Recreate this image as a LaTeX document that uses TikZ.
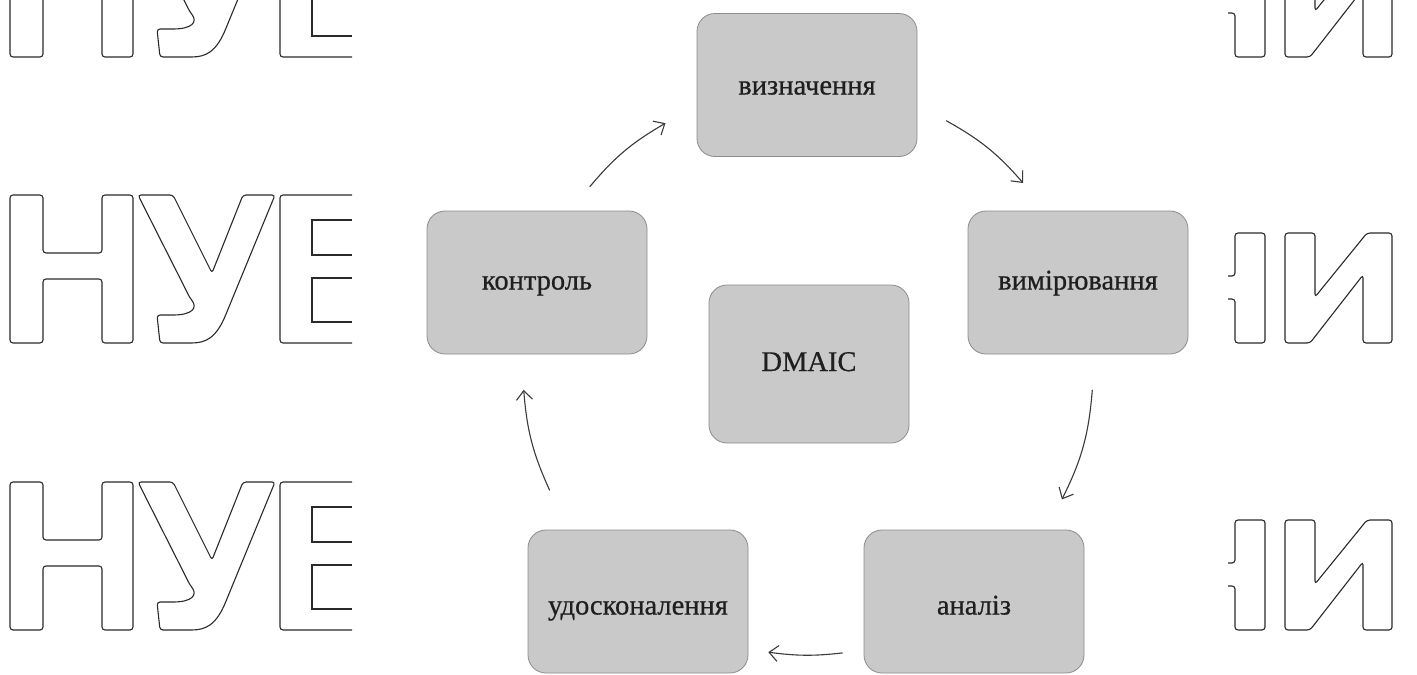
\documentclass[tikz,border=0pt]{standalone}
\usepackage{fontspec}
\setmainfont{Liberation Serif}[FakeBold=0.6]
\usetikzlibrary{arrows.meta}
\definecolor{boxfill}{HTML}{C9C9C9}
\definecolor{boxline}{HTML}{8C8C8C}
\definecolor{arrowcol}{HTML}{3A3A3A}
\definecolor{wmcol}{HTML}{2A2A2A}
\begin{document}
\begin{tikzpicture}[x=1pt,y=-1pt,
  stagebox/.style={draw=boxline, line width=0.8pt, fill=boxfill, rounded corners=18pt,
    minimum width=220pt, minimum height=143pt, inner sep=0pt,
    font=\fontsize{28.5}{32}\selectfont, text=black!88, text height=20pt, text depth=6pt},
  toptext/.style={text height=25pt, text depth=6pt},
  lowtext/.style={text height=30pt, text depth=4pt},
  centerbox/.style={stagebox, minimum width=200pt, minimum height=158pt},
  cyclearrow/.style={draw=arrowcol, line width=1.1pt, -{Straight Barb[length=9pt,width=16pt]}},
  wm/.style={draw=wmcol, line width=1.1pt}]
\useasboundingbox (0,0) rectangle (1417,675);
\fill[white] (0,0) rectangle (1417,675);
% watermark
\begin{scope}
\clip (0,0) rectangle (1417,675);
\foreach \T in {-91,195,482}{
  \draw[wm, rounded corners=3pt] (10,\T)--(43,\T)--(43,\T+58)--(102,\T+58)--(102,\T)--(133,\T)--(133,\T+148)--(102,\T+148)--(102,\T+84)--(43,\T+84)--(43,\T+148)--(10,\T+148)--cycle;
  \draw[wm, rounded corners=3pt] (138,\T)--(173,\T)--(212,\T+78)--(243,\T)--(275,\T)--(224,\T+124) .. controls (212,\T+148) and (200,\T+148) .. (185,\T+148)--(160,\T+148)--(157,\T+120)--(170,\T+120) .. controls (192,\T+120) and (198,\T+113) .. (190,\T+103)--cycle;
  \draw[wm, rounded corners=3pt] (352,\T)--(280,\T)--(280,\T+148)--(352,\T+148);
  \draw[wm] (352,\T+25)--(312,\T+25)--(312,\T+60)--(352,\T+60);
  \draw[wm] (352,\T+83)--(312,\T+83)--(312,\T+127)--(352,\T+127);
}
\foreach \R in {-53,233,520}{
  \draw[wm, rounded corners=3pt] (1228,\R+43)--(1235,\R+43)--(1235,\R)--(1265,\R)--(1265,\R+110)--(1235,\R+110)--(1235,\R+66)--(1228,\R+66);
  \draw[wm, rounded corners=3pt] (1285,\R)--(1315,\R)--(1315,\R+64)--(1367,\R)--(1392,\R)--(1392,\R+110)--(1363,\R+110)--(1363,\R+42)--(1310,\R+110)--(1285,\R+110)--cycle;
}
\end{scope}
% boxes
\node[stagebox, toptext] (def)  at (807,85)     {визначення};
\node[stagebox]          (meas) at (1078,282.5) {вимірювання};
\node[stagebox, lowtext] (anal) at (974,601.5)  {аналіз};
\node[stagebox, lowtext] (impr) at (638,601.5)  {удосконалення};
\node[stagebox]          (ctrl) at (537,282.5)  {контроль};
\node[centerbox]         (dmaic) at (809,364)   {DMAIC};
% arrow end points on the cycle circle
\coordinate (s1) at (589.7,186.8);  \coordinate (e1) at (665.5,123.2);
\coordinate (s2) at (946.2,120.7);  \coordinate (e2) at (1023.1,183.0);
\coordinate (s3) at (1092.3,389.9); \coordinate (e3) at (1061.9,499.4);
\coordinate (s4) at (842.7,652.9);  \coordinate (e4) at (768.3,652.2);
\coordinate (s5) at (549.7,490.4);  \coordinate (e5) at (523.7,389.9);
\draw[cyclearrow] (s1) to[bend left=10] (e1);
\draw[cyclearrow] (s2) to[bend left=10] (e2);
\draw[cyclearrow] (s3) to[bend left=11] (e3);
\draw[cyclearrow] (s4) to[bend left=7] (e4);
\draw[cyclearrow] (s5) to[bend left=10] (e5);
\end{tikzpicture}
\end{document}
